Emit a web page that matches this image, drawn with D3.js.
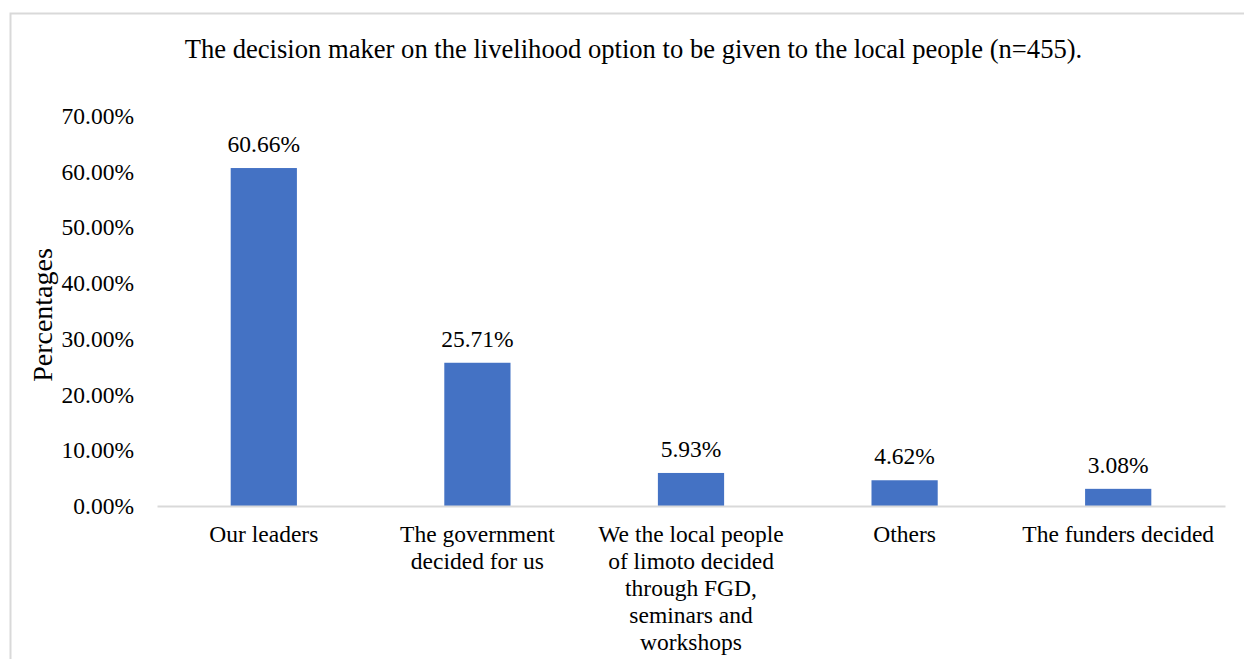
<!DOCTYPE html>
<html>
<head>
<meta charset="utf-8">
<script src="https://cdn.jsdelivr.net/npm/d3@7"></script>
<style>
  body { margin: 0; background: #fff; }
  svg, svg text { font-family: "Liberation Serif", "Times New Roman", serif; }
</style>
</head>
<body>
<div id="chart"></div>
<script>
const categories = [
  ['Our leaders'],
  ['The government', 'decided for us'],
  ['We the local people', 'of limoto decided', 'through FGD,', 'seminars and', 'workshops'],
  ['Others'],
  ['The funders decided']
]
const values = [60.66, 25.71, 5.93, 4.62, 3.08]
const yTicks = [0, 10, 20, 30, 40, 50, 60, 70]
const title = 'The decision maker on the livelihood option to be given to the local people (n=455).'
const yLabel = 'Percentages'

const W = 1244, H = 659
const margin = { top: 116, right: 19, bottom: 153, left: 157 }
const width = W - margin.left - margin.right
const height = H - margin.top - margin.bottom
const fontFamily = '"Liberation Serif", "Times New Roman", serif'

const svg = d3.select('#chart')
  .append('svg')
  .attr('width', W)
  .attr('height', H)

// chart frame
svg.append('rect')
  .attr('x', 10.5).attr('y', 13.5)
  .attr('width', W).attr('height', H)
  .attr('fill', 'none')
  .attr('stroke', '#d9d9d9')
  .attr('stroke-width', 2)

svg.append('text')
  .attr('x', 633.5).attr('y', 58)
  .attr('text-anchor', 'middle')
  .style('font-size', '26.6px')
  .text(title)

const g = svg.append('g')
  .attr('transform', `translate(${margin.left}, ${margin.top})`)

const x = d3.scaleBand()
  .domain(d3.range(values.length))
  .range([0, width])
  .paddingInner(0.69)
  .paddingOuter(0.345)

const y = d3.scaleLinear()
  .domain([0, 70])
  .range([height, 0])

// y axis (labels only)
const yAxis = g.append('g')
  .call(d3.axisLeft(y).tickValues(yTicks).tickFormat(d => d.toFixed(2) + '%').tickSize(0).tickPadding(23))
  .attr('font-family', fontFamily)
yAxis.select('.domain').remove()
yAxis.selectAll('text')
  .style('font-size', '23.5px')
  .attr('fill', '#000')

// bars
g.selectAll('.bar')
  .data(values)
  .join('rect')
  .attr('class', 'bar')
  .attr('x', (d, i) => x(i))
  .attr('y', d => y(d))
  .attr('width', x.bandwidth())
  .attr('height', d => height - y(d))
  .attr('fill', '#4472c4')

// value labels
g.selectAll('.val')
  .data(values)
  .join('text')
  .attr('class', 'val')
  .attr('x', (d, i) => x(i) + x.bandwidth() / 2)
  .attr('y', d => y(d) - 16)
  .attr('text-anchor', 'middle')
  .style('font-size', '23.5px')
  .text(d => d.toFixed(2) + '%')

// x axis
const xAxis = g.append('g')
  .attr('transform', `translate(0, ${height})`)
  .call(d3.axisBottom(x).tickSize(0).tickFormat(''))
  .attr('font-family', fontFamily)
xAxis.select('.domain')
  .attr('stroke', '#d9d9d9')
  .attr('stroke-width', 2)

xAxis.selectAll('.tick').each(function (d) {
  const t = d3.select(this).select('text')
    .attr('y', 0)
    .attr('dy', null)
    .style('font-size', '23.5px')
    .attr('fill', '#000')
  categories[d].forEach((line, k) => {
    t.append('tspan')
      .attr('x', 0)
      .attr('y', 36 + k * 27)
      .text(line)
  })
})

svg.append('text')
  .attr('transform', 'translate(52, 315) rotate(-90)')
  .attr('text-anchor', 'middle')
  .style('font-size', '28px')
  .text(yLabel)
</script>
</body>
</html>
